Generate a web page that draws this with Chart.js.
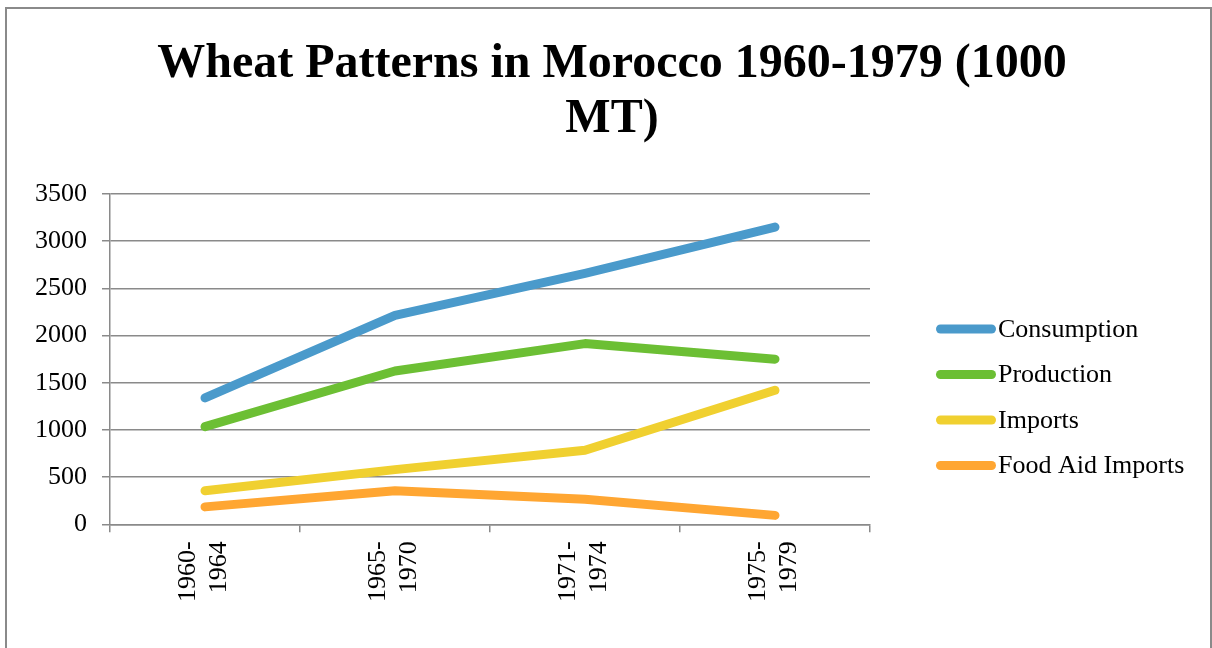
<!DOCTYPE html>
<html>
<head>
<meta charset="utf-8">
<script src="https://cdn.jsdelivr.net/npm/chart.js@4"></script>
<style>
  html, body { margin: 0; padding: 0; background: #fff; overflow: hidden; }
  #frame { position: absolute; left: 5px; top: 7px; width: 1207px; height: 700px; border: 2px solid #8a8a8a; box-sizing: border-box; }
  #wrap { position: absolute; left: 0; top: 0; width: 1212px; height: 648px; }
</style>
</head>
<body>
<div id="frame"></div>
<div id="wrap"><canvas id="c" width="1212" height="648"></canvas></div>
<script>
const titleLines = ['Wheat Patterns in Morocco 1960-1979 (1000', 'MT)'];
const categories = [['1960-', '1964'], ['1965-', '1970'], ['1971-', '1974'], ['1975-', '1979']];
const consumption = [1340, 2215, 2660, 3150];
const production = [1035, 1625, 1915, 1750];
const imports = [355, 580, 785, 1420];
const foodAid = [185, 355, 265, 95];
const yTicks = [0, 500, 1000, 1500, 2000, 2500, 3000, 3500];

const seriesNames = ['Consumption', 'Production', 'Imports', 'Food Aid Imports'];
const seriesColors = ['#4a9acb', '#6cbf34', '#f0d030', '#ffa632'];
const seriesData = [consumption, production, imports, foodAid];

const serif = '"Liberation Serif", "Times New Roman", serif';

// Legend drawn at the right, Excel style (rounded line + label)
const sideLegend = {
  id: 'sideLegend',
  afterDraw(chart) {
    const ctx = chart.ctx;
    const x0 = 940.5, x1 = 991.5, tx = 998;
    const yStart = 329, step = 45.5;
    ctx.save();
    chart.data.datasets.forEach((ds, i) => {
      const y = yStart + i * step;
      ctx.strokeStyle = ds.borderColor;
      ctx.lineWidth = 9;
      ctx.lineCap = 'round';
      ctx.beginPath();
      ctx.moveTo(x0, y);
      ctx.lineTo(x1, y);
      ctx.stroke();
      ctx.fillStyle = '#000';
      ctx.font = '26px ' + serif;
      ctx.textAlign = 'left';
      ctx.textBaseline = 'middle';
      ctx.fillText(ds.label, tx, y + 1);
    });
    ctx.restore();
  }
};

new Chart(document.getElementById('c'), {
  type: 'line',
  data: {
    labels: categories,
    datasets: seriesData.map((d, i) => ({
      label: seriesNames[i],
      data: d,
      borderColor: seriesColors[i],
      backgroundColor: seriesColors[i],
      borderWidth: 9,
      borderCapStyle: 'round',
      borderJoinStyle: 'round',
      pointRadius: 0,
      pointHoverRadius: 0,
      tension: 0,
      yAxisID: 'y'
    }))
  },
  options: {
    responsive: false,
    animation: false,
    events: [],
    layout: { padding: { left: 20, right: 8, top: 37, bottom: 37 } },
    plugins: {
      title: {
        display: true,
        text: titleLines,
        font: { family: serif, size: 48, weight: 'bold', lineHeight: 1.146 },
        color: '#000',
        padding: { top: 0, bottom: 47 }
      },
      legend: { display: false },
      tooltip: { enabled: false }
    },
    scales: {
      x: {
        offset: true,
        grid: { offset: true, drawOnChartArea: false, color: '#8a8a8a', lineWidth: 1.5, tickLength: 8 },
        border: { color: '#8a8a8a', width: 1.5 },
        ticks: {
          font: { family: serif, size: 26, lineHeight: 1.2 },
          color: '#000',
          maxRotation: 90,
          minRotation: 90,
          padding: 9
        },
        afterUpdate: (axis) => {
          if (axis._shifted) return;
          axis._shifted = true;
          const orig = axis.drawLabels.bind(axis);
          axis.drawLabels = function (area) {
            const ctx = this.ctx;
            ctx.save();
            ctx.translate(-17, 0);
            orig(area);
            ctx.restore();
          };
        }
      },
      y: {
        min: 0,
        max: 3500,
        afterBuildTicks: (axis) => { axis.ticks = yTicks.map(v => ({ value: v })); },
        grid: { color: '#8a8a8a', lineWidth: 1.5, tickLength: 8 },
        border: { color: '#8a8a8a', width: 1.5 },
        ticks: {
          font: { family: serif, size: 26 },
          color: '#000',
          padding: 15,
          callback: (v) => String(v)
        }
      },
      legendSpace: {
        type: 'linear',
        position: 'right',
        display: true,
        grid: { display: false, drawTicks: false },
        border: { display: false },
        ticks: { display: false },
        afterFit: (axis) => { axis.width = 334; }
      }
    }
  },
  plugins: [sideLegend]
});
</script>
</body>
</html>
